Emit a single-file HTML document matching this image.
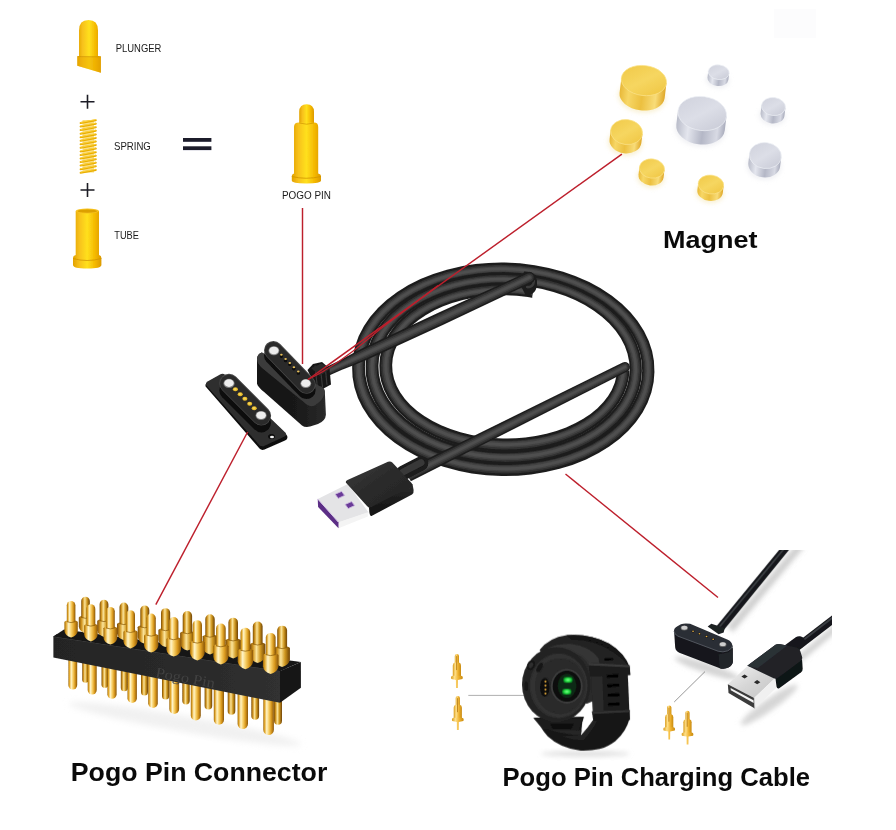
<!DOCTYPE html>
<html><head><meta charset="utf-8">
<style>
html,body{margin:0;padding:0;background:#fff;}
body{width:896px;height:830px;overflow:hidden;font-family:"Liberation Sans",sans-serif;}
svg{display:block}
text{font-family:"Liberation Sans",sans-serif;}
</style></head><body>
<svg width="896" height="830" viewBox="0 0 896 830">
<defs>
<linearGradient id="gold" x1="0" x2="1" y1="0" y2="0">
<stop offset="0" stop-color="#e2a200"/><stop offset="0.22" stop-color="#f7c11a"/><stop offset="0.5" stop-color="#ffe01e"/><stop offset="0.78" stop-color="#f4b800"/><stop offset="1" stop-color="#dc9a00"/>
</linearGradient>
<linearGradient id="gside" x1="0" x2="1" y1="0" y2="0">
<stop offset="0" stop-color="#e8b838"/><stop offset="0.2" stop-color="#f7d766"/><stop offset="0.5" stop-color="#ecc040"/><stop offset="0.8" stop-color="#f8dc78"/><stop offset="1" stop-color="#e0a828"/>
</linearGradient>
<linearGradient id="gtop" x1="0" x2="1" y1="0" y2="1">
<stop offset="0" stop-color="#f0c846"/><stop offset="0.5" stop-color="#f6d660"/><stop offset="1" stop-color="#efc440"/>
</linearGradient>
<linearGradient id="sside" x1="0" x2="1" y1="0" y2="0">
<stop offset="0" stop-color="#b9bcc9"/><stop offset="0.25" stop-color="#e4e6ee"/><stop offset="0.55" stop-color="#b4b7c6"/><stop offset="0.85" stop-color="#d8dae4"/><stop offset="1" stop-color="#a9acbc"/>
</linearGradient>
<linearGradient id="stop" x1="0" x2="1" y1="0" y2="1">
<stop offset="0" stop-color="#cfd1dc"/><stop offset="0.5" stop-color="#dcdee7"/><stop offset="1" stop-color="#c6c8d4"/>
</linearGradient>
<linearGradient id="bodyside" x1="0" x2="1" y1="0" y2="0">
<stop offset="0" stop-color="#121212"/><stop offset="0.6" stop-color="#1a1a1a"/><stop offset="1" stop-color="#2a2a2a"/>
</linearGradient>
<linearGradient id="usbtop" x1="0" x2="1" y1="0" y2="1">
<stop offset="0" stop-color="#3a3a3a"/><stop offset="0.5" stop-color="#2a2a2a"/><stop offset="1" stop-color="#242424"/>
</linearGradient>
<linearGradient id="usbside" x1="0" x2="0" y1="0" y2="1">
<stop offset="0" stop-color="#2e2e2e"/><stop offset="0.5" stop-color="#1c1c1c"/><stop offset="1" stop-color="#121212"/>
</linearGradient>
<linearGradient id="pin" x1="0" x2="1" y1="0" y2="0">
<stop offset="0" stop-color="#9a6408"/><stop offset="0.12" stop-color="#e0a428"/><stop offset="0.32" stop-color="#fff4c8"/><stop offset="0.52" stop-color="#f8d068"/><stop offset="0.74" stop-color="#dc9c20"/><stop offset="1" stop-color="#8a5606"/>
</linearGradient>
<linearGradient id="pinb" x1="0" x2="1" y1="0" y2="0">
<stop offset="0" stop-color="#7a4c06"/><stop offset="0.2" stop-color="#d09420"/><stop offset="0.42" stop-color="#fbe49a"/><stop offset="0.68" stop-color="#d09820"/><stop offset="1" stop-color="#6e4202"/>
</linearGradient>
<linearGradient id="barfront" x1="0" x2="1" y1="0" y2="0">
<stop offset="0" stop-color="#242424"/><stop offset="0.6" stop-color="#2a2a2a"/><stop offset="1" stop-color="#303030"/>
</linearGradient>
<radialGradient id="glow" cx="0.5" cy="0.5" r="0.5">
<stop offset="0" stop-color="#7dff8a"/><stop offset="0.55" stop-color="#28e046"/><stop offset="1" stop-color="#0a7a20"/>
</radialGradient>
<linearGradient id="metal" x1="0" x2="1" y1="0" y2="1">
<stop offset="0" stop-color="#f2f2f2"/><stop offset="0.5" stop-color="#d6d6d6"/><stop offset="1" stop-color="#c4c4c4"/>
</linearGradient>
<linearGradient id="minipin" x1="0" x2="1" y1="0" y2="0">
<stop offset="0" stop-color="#d89a18"/><stop offset="0.3" stop-color="#ffe08a"/><stop offset="0.62" stop-color="#f0b432"/><stop offset="1" stop-color="#c88a10"/>
</linearGradient>
<filter id="soft" x="-2%" y="-2%" width="104%" height="104%"><feGaussianBlur stdDeviation="0.4"/></filter>
<filter id="blur1" x="-20%" y="-20%" width="140%" height="140%"><feGaussianBlur stdDeviation="0.5"/></filter>
<filter id="blur2" x="-30%" y="-30%" width="160%" height="160%"><feGaussianBlur stdDeviation="2"/></filter>
<filter id="blur3" x="-30%" y="-30%" width="160%" height="160%"><feGaussianBlur stdDeviation="3"/></filter>
<filter id="blurz" x="-50%" y="-50%" width="200%" height="200%"><feGaussianBlur stdDeviation="11"/></filter>
<filter id="blurw" x="-5%" y="-5%" width="110%" height="110%"><feGaussianBlur stdDeviation="2.5"/></filter>
<clipPath id="s3clip"><path d="M300,200 L531,200 L531,368.5 L700,368.5 L700,520 L300,520 Z"/></clipPath>
<clipPath id="insetclip"><rect x="640" y="550.2" width="192" height="220"/></clipPath>
</defs>
<rect width="896" height="830" fill="#fff"/>
<g filter="url(#soft)"><g id="topleft">
<path d="M79,56 L79,30.5 Q79,20.1 88.5,20.1 Q98,20.1 98,30.5 L98,56 L100.9,56.6 L100.9,72.8 L77.3,65.8 L77.3,56.6 Z" fill="url(#gold)"/>
<path d="M77.3,56.8 L100.9,57 L100.9,72.8 L77.3,65.8 Z" fill="#eaa800" opacity="0.5"/>
<path d="M77.3,56.6 L100.9,56.8" stroke="#d09400" stroke-width="0.7"/>
<path d="M80.5,101.8 H94.5 M87.5,94.8 V108.8" stroke="#1b1b25" stroke-width="1.6"/>
<path d="M80.5,190 H94.5 M87.5,183 V197" stroke="#1b1b25" stroke-width="1.6"/>
<rect x="82.5" y="120" width="11.5" height="52.5" fill="#f6c830" opacity="0.6"/>
<path d="M80.6,123.0 L95.8,120.2" stroke="#e9ae00" stroke-width="2.0" stroke-linecap="round"/><path d="M81,122.4 L95.4,119.6" stroke="#ffd84a" stroke-width="0.8" stroke-linecap="round"/><path d="M80.6,126.5 L95.8,123.7" stroke="#e9ae00" stroke-width="2.0" stroke-linecap="round"/><path d="M81,125.9 L95.4,123.1" stroke="#ffd84a" stroke-width="0.8" stroke-linecap="round"/><path d="M80.6,130.1 L95.8,127.3" stroke="#e9ae00" stroke-width="2.0" stroke-linecap="round"/><path d="M81,129.5 L95.4,126.7" stroke="#ffd84a" stroke-width="0.8" stroke-linecap="round"/><path d="M80.6,133.7 L95.8,130.8" stroke="#e9ae00" stroke-width="2.0" stroke-linecap="round"/><path d="M81,133.1 L95.4,130.2" stroke="#ffd84a" stroke-width="0.8" stroke-linecap="round"/><path d="M80.6,137.2 L95.8,134.4" stroke="#e9ae00" stroke-width="2.0" stroke-linecap="round"/><path d="M81,136.6 L95.4,133.8" stroke="#ffd84a" stroke-width="0.8" stroke-linecap="round"/><path d="M80.6,140.8 L95.8,137.9" stroke="#e9ae00" stroke-width="2.0" stroke-linecap="round"/><path d="M81,140.2 L95.4,137.3" stroke="#ffd84a" stroke-width="0.8" stroke-linecap="round"/><path d="M80.6,144.3 L95.8,141.5" stroke="#e9ae00" stroke-width="2.0" stroke-linecap="round"/><path d="M81,143.7 L95.4,140.9" stroke="#ffd84a" stroke-width="0.8" stroke-linecap="round"/><path d="M80.6,147.8 L95.8,145.0" stroke="#e9ae00" stroke-width="2.0" stroke-linecap="round"/><path d="M81,147.2 L95.4,144.4" stroke="#ffd84a" stroke-width="0.8" stroke-linecap="round"/><path d="M80.6,151.4 L95.8,148.6" stroke="#e9ae00" stroke-width="2.0" stroke-linecap="round"/><path d="M81,150.8 L95.4,148.0" stroke="#ffd84a" stroke-width="0.8" stroke-linecap="round"/><path d="M80.6,155.0 L95.8,152.2" stroke="#e9ae00" stroke-width="2.0" stroke-linecap="round"/><path d="M81,154.4 L95.4,151.6" stroke="#ffd84a" stroke-width="0.8" stroke-linecap="round"/><path d="M80.6,158.5 L95.8,155.7" stroke="#e9ae00" stroke-width="2.0" stroke-linecap="round"/><path d="M81,157.9 L95.4,155.1" stroke="#ffd84a" stroke-width="0.8" stroke-linecap="round"/><path d="M80.6,162.1 L95.8,159.2" stroke="#e9ae00" stroke-width="2.0" stroke-linecap="round"/><path d="M81,161.5 L95.4,158.7" stroke="#ffd84a" stroke-width="0.8" stroke-linecap="round"/><path d="M80.6,165.6 L95.8,162.8" stroke="#e9ae00" stroke-width="2.0" stroke-linecap="round"/><path d="M81,165.0 L95.4,162.2" stroke="#ffd84a" stroke-width="0.8" stroke-linecap="round"/><path d="M80.6,169.2 L95.8,166.3" stroke="#e9ae00" stroke-width="2.0" stroke-linecap="round"/><path d="M81,168.6 L95.4,165.8" stroke="#ffd84a" stroke-width="0.8" stroke-linecap="round"/><path d="M80.6,172.7 L95.8,169.9" stroke="#e9ae00" stroke-width="2.0" stroke-linecap="round"/><path d="M81,172.1 L95.4,169.3" stroke="#ffd84a" stroke-width="0.8" stroke-linecap="round"/>
<path d="M75.7,211 L75.7,255 Q73,255.5 73,258 L73,265 Q73,268.6 87.2,268.6 Q101.4,268.6 101.4,265 L101.4,258 Q101.4,255.5 99,255 L99,211 Z" fill="url(#gold)"/>
<ellipse cx="87.35" cy="211" rx="11.65" ry="2.6" fill="#f7c21e"/>
<ellipse cx="87.35" cy="211.2" rx="9.8" ry="1.6" fill="#dca000"/>
<path d="M73,258.5 Q87,262.5 101.4,258.5" stroke="#d09400" stroke-width="0.8" fill="none"/>
<rect x="183" y="138.0" width="28.4" height="3.8" fill="#1b1b2b"/>
<rect x="183" y="146.3" width="28.4" height="3.8" fill="#1b1b2b"/>
<path d="M299.2,124 L299.2,112 Q299.2,104.3 306.6,104.3 Q314,104.3 314,112 L314,124 Z" fill="url(#gold)"/>
<path d="M294,173.5 L294,127 Q294,122.6 299,122.6 L314,122.6 Q318.2,122.6 318.2,127 L318.2,173.5 Q321,174 321,176 L321,180.5 Q321,183.4 306.4,183.4 Q291.8,183.4 291.8,180.5 L291.8,176 Q291.8,174 294,173.5 Z" fill="url(#gold)"/>
<path d="M291.8,176.5 Q306,180 321,176.5" stroke="#d09400" stroke-width="0.8" fill="none"/>
<path d="M299.2,123 Q306.6,125.4 314,123" stroke="#d09400" stroke-width="0.7" fill="none"/>
</g></g>
<rect x="774" y="9" width="42" height="29" fill="#fcfcfd"/><g id="magnets" filter="url(#blur1)"><g transform="rotate(7 643 88.0)"><ellipse cx="643" cy="97.0" rx="24.2" ry="16" fill="#f3e4b0" opacity="0.5" filter="url(#blur2)"/><path d="M620.3,80.5 L620.3,95.5 A22.7,15 0 0 0 665.7,95.5 L665.7,80.5 Z" fill="url(#gside)"/><ellipse cx="643" cy="80.5" rx="22.7" ry="15" fill="url(#gtop)" stroke="#fbe38a" stroke-width="0.7"/></g><g transform="rotate(7 701.4 120.5)"><ellipse cx="701.4" cy="129.0" rx="25.9" ry="18" fill="#e3e4ea" opacity="0.5" filter="url(#blur2)"/><path d="M677.0,113.5 L677.0,127.5 A24.4,17 0 0 0 725.8,127.5 L725.8,113.5 Z" fill="url(#sside)"/><ellipse cx="701.4" cy="113.5" rx="24.4" ry="17" fill="url(#stop)" stroke="#eceef4" stroke-width="0.7"/></g><g transform="rotate(7 626 136.5)"><ellipse cx="626" cy="142.5" rx="17.5" ry="13.5" fill="#f3e4b0" opacity="0.5" filter="url(#blur2)"/><path d="M610,132 L610,141 A16,12.5 0 0 0 642,141 L642,132 Z" fill="url(#gside)"/><ellipse cx="626" cy="132" rx="16" ry="12.5" fill="url(#gtop)" stroke="#fbe38a" stroke-width="0.7"/></g><g transform="rotate(7 651.5 172.25)"><ellipse cx="651.5" cy="177.5" rx="14.1" ry="10.6" fill="#f3e4b0" opacity="0.5" filter="url(#blur2)"/><path d="M638.9,168.5 L638.9,176.0 A12.6,9.6 0 0 0 664.1,176.0 L664.1,168.5 Z" fill="url(#gside)"/><ellipse cx="651.5" cy="168.5" rx="12.6" ry="9.6" fill="url(#gtop)" stroke="#fbe38a" stroke-width="0.7"/></g><g transform="rotate(7 710.5 188.0)"><ellipse cx="710.5" cy="193.0" rx="14.3" ry="10.4" fill="#f3e4b0" opacity="0.5" filter="url(#blur2)"/><path d="M697.7,184.5 L697.7,191.5 A12.8,9.4 0 0 0 723.3,191.5 L723.3,184.5 Z" fill="url(#gside)"/><ellipse cx="710.5" cy="184.5" rx="12.8" ry="9.4" fill="url(#gtop)" stroke="#fbe38a" stroke-width="0.7"/></g><g transform="rotate(7 718.3 75.45)"><ellipse cx="718.3" cy="80.2" rx="12.0" ry="8.3" fill="#e3e4ea" opacity="0.5" filter="url(#blur2)"/><path d="M707.8,72.2 L707.8,78.7 A10.5,7.3 0 0 0 728.8,78.7 L728.8,72.2 Z" fill="url(#sside)"/><ellipse cx="718.3" cy="72.2" rx="10.5" ry="7.3" fill="url(#stop)" stroke="#eceef4" stroke-width="0.7"/></g><g transform="rotate(7 773 110.5)"><ellipse cx="773" cy="116.0" rx="13.5" ry="10" fill="#e3e4ea" opacity="0.5" filter="url(#blur2)"/><path d="M761,106.5 L761,114.5 A12,9 0 0 0 785,114.5 L785,106.5 Z" fill="url(#sside)"/><ellipse cx="773" cy="106.5" rx="12" ry="9" fill="url(#stop)" stroke="#eceef4" stroke-width="0.7"/></g><g transform="rotate(7 764.8 160.0)"><ellipse cx="764.8" cy="166.0" rx="17.5" ry="14" fill="#e3e4ea" opacity="0.5" filter="url(#blur2)"/><path d="M748.8,155.5 L748.8,164.5 A16,13 0 0 0 780.8,164.5 L780.8,155.5 Z" fill="url(#sside)"/><ellipse cx="764.8" cy="155.5" rx="16" ry="13" fill="url(#stop)" stroke="#eceef4" stroke-width="0.7"/></g></g>
<g filter="url(#soft)"><g id="cable"><g transform="rotate(1 503 369)"><path d="M352.10,369.25 A151.18,105.85 0 1 1 654.45,369.25 A151.18,105.85 0 1 1 352.10,369.25 Z M364.90,368.55 A138.62,93.95 0 1 1 642.15,368.55 A138.62,93.95 0 1 1 364.90,368.55 Z" fill="#1d1d1d" fill-rule="evenodd"/><path d="M353.76,369.16 A149.54,104.30 0 1 1 652.85,369.16 A149.54,104.30 0 1 1 353.76,369.16 Z M363.24,368.64 A140.26,95.50 0 1 1 643.75,368.64 A140.26,95.50 0 1 1 363.24,368.64 Z" fill="#303030" fill-rule="evenodd"/><path d="M355.43,369.07 A147.91,102.76 0 1 1 651.25,369.07 A147.91,102.76 0 1 1 355.43,369.07 Z M361.57,368.73 A141.89,97.04 0 1 1 645.35,368.73 A141.89,97.04 0 1 1 361.57,368.73 Z" fill="#434343" fill-rule="evenodd"/><path d="M356.96,368.98 A146.41,101.33 0 1 1 649.78,368.98 A146.41,101.33 0 1 1 356.96,368.98 Z M360.04,368.82 A143.39,98.47 0 1 1 646.82,368.82 A143.39,98.47 0 1 1 360.04,368.82 Z" fill="#4f4f4f" fill-rule="evenodd"/><path d="M365.60,368.55 A138.18,94.95 0 1 1 641.95,368.55 A138.18,94.95 0 1 1 365.60,368.55 Z M378.40,367.85 A125.62,83.05 0 1 1 629.65,367.85 A125.62,83.05 0 1 1 378.40,367.85 Z" fill="#1d1d1d" fill-rule="evenodd"/><path d="M367.26,368.46 A136.54,93.40 0 1 1 640.35,368.46 A136.54,93.40 0 1 1 367.26,368.46 Z M376.74,367.94 A127.26,84.60 0 1 1 631.25,367.94 A127.26,84.60 0 1 1 376.74,367.94 Z" fill="#303030" fill-rule="evenodd"/><path d="M368.93,368.37 A134.91,91.86 0 1 1 638.75,368.37 A134.91,91.86 0 1 1 368.93,368.37 Z M375.07,368.03 A128.89,86.14 0 1 1 632.85,368.03 A128.89,86.14 0 1 1 375.07,368.03 Z" fill="#434343" fill-rule="evenodd"/><path d="M370.46,368.28 A133.41,90.43 0 1 1 637.28,368.28 A133.41,90.43 0 1 1 370.46,368.28 Z M373.54,368.12 A130.39,87.57 0 1 1 634.32,368.12 A130.39,87.57 0 1 1 373.54,368.12 Z" fill="#4f4f4f" fill-rule="evenodd"/><g clip-path="url(#s3clip)"><path d="M379.30,367.55 A125.08,83.45 0 1 1 629.45,367.55 A125.08,83.45 0 1 1 379.30,367.55 Z M392.10,366.85 A112.52,71.55 0 1 1 617.15,366.85 A112.52,71.55 0 1 1 392.10,366.85 Z" fill="#1d1d1d" fill-rule="evenodd"/><path d="M380.96,367.46 A123.44,81.90 0 1 1 627.85,367.46 A123.44,81.90 0 1 1 380.96,367.46 Z M390.44,366.94 A114.16,73.10 0 1 1 618.75,366.94 A114.16,73.10 0 1 1 390.44,366.94 Z" fill="#303030" fill-rule="evenodd"/><path d="M382.63,367.37 A121.81,80.36 0 1 1 626.25,367.37 A121.81,80.36 0 1 1 382.63,367.37 Z M388.77,367.03 A115.79,74.64 0 1 1 620.35,367.03 A115.79,74.64 0 1 1 388.77,367.03 Z" fill="#434343" fill-rule="evenodd"/><path d="M384.16,367.28 A120.31,78.93 0 1 1 624.78,367.28 A120.31,78.93 0 1 1 384.16,367.28 Z M387.24,367.12 A117.29,76.07 0 1 1 621.82,367.12 A117.29,76.07 0 1 1 387.24,367.12 Z" fill="#4f4f4f" fill-rule="evenodd"/></g></g><path d="M524,271.5 Q536.5,271 537,282 Q537.5,294.5 526,296 L520,284 Z" fill="#1b1b1b"/><path d="M527,287 Q533,288 534,281" stroke="#3a3a3a" stroke-width="2.5" fill="none" stroke-linecap="round"/><path d="M410.82,481.13 L627.28,371.56 A5.10,5.10 0 0 0 622.72,362.44 L405.18,469.87 Z" fill="#1d1d1d"/><path d="M410.08,479.67 L626.69,370.38 A3.77,3.77 0 0 0 623.31,363.62 L405.92,471.33 Z" fill="#303030"/><path d="M409.35,478.20 L626.09,369.19 A2.45,2.45 0 0 0 623.91,364.81 L406.65,472.80 Z" fill="#434343"/><path d="M408.68,476.85 L625.55,368.09 A1.22,1.22 0 0 0 624.45,365.91 L407.32,474.15 Z" fill="#4f4f4f"/><path d="M326.81,376.40 L341.98,369.79 L354.32,364.95 L367.59,359.50 L442.76,325.02 L531.94,282.76 A5.80,5.80 0 0 0 527.06,272.24 L437.24,313.14 L362.41,348.34 L349.68,354.97 L338.02,361.27 L323.19,368.60 Z" fill="#1d1d1d"/><path d="M326.34,375.39 L341.47,368.69 L353.71,363.65 L366.92,358.05 L442.04,323.47 L531.31,281.39 A4.29,4.29 0 0 0 527.69,273.61 L437.96,314.68 L363.08,349.79 L350.29,356.27 L338.53,362.38 L323.66,369.61 Z" fill="#303030"/><path d="M325.87,374.37 L340.95,367.58 L353.11,362.35 L366.24,356.60 L441.32,321.93 L530.67,280.02 A2.78,2.78 0 0 0 528.33,274.98 L438.68,316.23 L363.76,351.24 L350.89,357.56 L339.05,363.49 L324.13,370.63 Z" fill="#434343"/><path d="M325.43,373.44 L340.48,366.55 L352.56,361.15 L365.62,355.26 L440.66,320.50 L530.09,278.76 A1.39,1.39 0 0 0 528.91,276.24 L439.34,317.65 L364.38,352.58 L351.44,358.76 L339.52,364.51 L324.57,371.56 Z" fill="#4f4f4f"/></g>
<g id="connectors"><g id="usb"><path d="M403,473 L421,463.6" stroke="#1a1a1a" stroke-width="14.5" stroke-linecap="round"/><path d="M403,472 L421,462.6" stroke="#383838" stroke-width="7" stroke-linecap="round"/><path d="M317.7,498.9 L347.9,484.1 L368.6,512.6 L338.5,522.5 Z" fill="#e4e4e6"/><path d="M338.5,522.3 L367.9,512.3 L367.9,516.6 L338.5,528.3 Z" fill="#f4f4f4"/><path d="M317.7,498.9 L318.1,506.9 L338.5,528.3 L338.5,522.3 Z" fill="#5b2f86"/><path d="M317.7,498.9 L338.5,522.3" stroke="#d8c8e8" stroke-width="1"/><path d="M335.2,494.2 L341.6,491.4 L344.6,495.4 L338.2,498.4 Z" fill="#6a3a98" stroke="#c9b6dc" stroke-width="0.9"/><path d="M345.2,504.4 L351.6,501.6 L354.6,505.6 L348.2,508.6 Z" fill="#6a3a98" stroke="#c9b6dc" stroke-width="0.9"/><path d="M346,483 L369,508 Q369.4,517 371.5,516 L412,494.5 Q414,493 413.6,490 L412.5,484 L368.6,507.6 Z" fill="url(#usbside)"/><path d="M345.8,482.6 Q345.4,480.8 347.5,480 L388,461.8 Q390.7,460.8 392.3,462.6 L411.5,483 Q413.4,485.2 411,486.6 L371,507 Q368.6,508.2 367,506 Z" fill="url(#usbtop)"/></g><g id="head"><path d="M307.5,370 L313,364 L322,362 L329.5,368.5 L331,384.5 L318,391.5 Z" fill="#161616"/><path d="M315,365.5 L317.5,388.5 M320,364 L322.5,387 M325,365 L327,385" stroke="#3a3a3a" stroke-width="1.2"/><path d="M311,368 L322,363.5 L329,369.5 L320,376 Z" fill="#2a2a2a"/><path d="M261.9,352.5 Q257,354 257,359.5 L257,383.4 Q257.5,386.5 264.1,392 L302,425.4 Q305,427.8 310,426.6 L318,424 Q325.5,421 325.9,414.8 L324.8,391 Q324,387 319.4,386.6 Z" fill="url(#bodyside)"/><path d="M261.9,352.5 Q257,354 257,359.5 Q257.3,363.8 262,368 L307,404.8 Q311,407.6 315.5,405 Q323.5,400 324.8,392 Q324.4,387 319.4,386 Z" fill="#3b3b3b"/><path d="M273.3,355.6 L306.4,389.8" stroke="#0c0c0c" stroke-width="18.5" stroke-linecap="round"/><path d="M273.3,350.3 L306.4,384.5" stroke="#4a4a4a" stroke-width="18.6" stroke-linecap="round"/><path d="M273.3,350.5 L306.4,384.7" stroke="#2c2c2c" stroke-width="17" stroke-linecap="round"/><ellipse cx="273.9" cy="350.8" rx="5.4" ry="4.5" fill="#8a8a8a"/><ellipse cx="273.9" cy="350.5" rx="4.6" ry="3.8" fill="#ececec"/><ellipse cx="305.8" cy="383.6" rx="5.4" ry="4.5" fill="#8a8a8a"/><ellipse cx="305.8" cy="383.3" rx="4.6" ry="3.8" fill="#ececec"/><ellipse cx="281.4" cy="356.09999999999997" rx="1.7" ry="1.9" fill="#080808"/><ellipse cx="281.4" cy="354.8" rx="1.3" ry="1" fill="#e6bf5a"/><ellipse cx="285.6" cy="360.4" rx="1.7" ry="1.9" fill="#080808"/><ellipse cx="285.6" cy="359.1" rx="1.3" ry="1" fill="#e6bf5a"/><ellipse cx="289.8" cy="364.2" rx="1.7" ry="1.9" fill="#080808"/><ellipse cx="289.8" cy="362.90000000000003" rx="1.3" ry="1" fill="#e6bf5a"/><ellipse cx="293.9" cy="368.59999999999997" rx="1.7" ry="1.9" fill="#080808"/><ellipse cx="293.9" cy="367.3" rx="1.3" ry="1" fill="#e6bf5a"/><ellipse cx="298.3" cy="372.9" rx="1.7" ry="1.9" fill="#080808"/><ellipse cx="298.3" cy="371.6" rx="1.3" ry="1" fill="#e6bf5a"/></g><g id="flat"><path d="M205.6,386.5 Q204.8,384 207.5,382.6 L220.5,375 Q223,373.8 225,375.6 L285.5,433.6 Q287.8,436 287.4,438 Q287,439.6 285,440.6 L264.5,449.6 Q261.5,450.6 259.5,448.6 Z" fill="#0e0e0e"/><path d="M206,385 Q205.2,383 207.5,381.6 L220.5,374.2 Q223,373 225,374.8 L285.3,432.4 Q287.4,434.8 284.6,436.4 L264,446 Q261.4,447 259.5,445.2 Z" fill="#2f2f2f"/><path d="M229,390.4 L261.4,422.8" stroke="#0b0b0b" stroke-width="19.3" stroke-linecap="round"/><path d="M229,383.4 L261.4,415.8" stroke="#474747" stroke-width="19.4" stroke-linecap="round"/><path d="M229,383.6 L261.4,416" stroke="#2b2b2b" stroke-width="17.8" stroke-linecap="round"/><ellipse cx="229" cy="383.4" rx="5.6" ry="4.6" fill="#7a7a7a"/><ellipse cx="229" cy="383.09999999999997" rx="4.8" ry="3.8" fill="#eeeeee"/><ellipse cx="261.1" cy="415.5" rx="5.6" ry="4.6" fill="#7a7a7a"/><ellipse cx="261.1" cy="415.2" rx="4.8" ry="3.8" fill="#eeeeee"/><ellipse cx="235.4" cy="389.3" rx="2.5" ry="2" fill="#e9bd2c"/><ellipse cx="235.20000000000002" cy="389.1" rx="1.4" ry="1.1" fill="#f6d458"/><ellipse cx="240.2" cy="394.2" rx="2.5" ry="2" fill="#e9bd2c"/><ellipse cx="240.0" cy="394.0" rx="1.4" ry="1.1" fill="#f6d458"/><ellipse cx="244.9" cy="398.8" rx="2.5" ry="2" fill="#e9bd2c"/><ellipse cx="244.70000000000002" cy="398.6" rx="1.4" ry="1.1" fill="#f6d458"/><ellipse cx="249.7" cy="403.7" rx="2.5" ry="2" fill="#e9bd2c"/><ellipse cx="249.5" cy="403.5" rx="1.4" ry="1.1" fill="#f6d458"/><ellipse cx="254.2" cy="408.3" rx="2.5" ry="2" fill="#e9bd2c"/><ellipse cx="254.0" cy="408.1" rx="1.4" ry="1.1" fill="#f6d458"/><ellipse cx="271.5" cy="436.4" rx="3.4" ry="2.5" fill="#0a0a0a"/><ellipse cx="272" cy="437" rx="2" ry="1.3" fill="#f2f2f2"/></g></g></g>
<g filter="url(#soft)"><g id="pinconn"><ellipse cx="185" cy="724" rx="118" ry="8" fill="#f1f1f1" filter="url(#blur3)" transform="rotate(10 185 724)"/><path d="M82.2,657.9 L82.2,679.4 A3.3,3.3 0 0 0 88.8,679.4 L88.8,657.9 Z" fill="url(#pinb)"/><path d="M101.5,661.8 L101.5,684.4 A3.4,3.4 0 0 0 108.3,684.4 L108.3,661.8 Z" fill="url(#pinb)"/><path d="M120.8,665.7 L120.8,687.7 A3.5,3.5 0 0 0 127.8,687.7 L127.8,665.7 Z" fill="url(#pinb)"/><path d="M141.0,669.7 L141.0,691.9 A3.5,3.5 0 0 0 148.0,691.9 L148.0,669.7 Z" fill="url(#pinb)"/><path d="M162.0,673.9 L162.0,696.0 A3.6,3.6 0 0 0 169.2,696.0 L169.2,673.9 Z" fill="url(#pinb)"/><path d="M182.3,678.0 L182.3,700.8 A3.7,3.7 0 0 0 189.7,700.8 L189.7,678.0 Z" fill="url(#pinb)"/><path d="M204.6,682.5 L204.6,705.8 A3.8,3.8 0 0 0 212.2,705.8 L212.2,682.5 Z" fill="url(#pinb)"/><path d="M227.7,687.1 L227.7,710.9 A3.8,3.8 0 0 0 235.3,710.9 L235.3,687.1 Z" fill="url(#pinb)"/><path d="M251.3,691.9 L251.3,715.8 A3.9,3.9 0 0 0 259.1,715.8 L259.1,691.9 Z" fill="url(#pinb)"/><path d="M274.0,696.4 L274.0,720.8 A4.0,4.0 0 0 0 282.0,720.8 L282.0,696.4 Z" fill="url(#pinb)"/><path d="M68.4,658.4 L68.4,685.1 A4.4,4.4 0 0 0 77.2,685.1 L77.2,658.4 Z" fill="url(#pin)"/><path d="M87.7,662.3 L87.7,690.0 A4.5,4.5 0 0 0 96.7,690.0 L96.7,662.3 Z" fill="url(#pin)"/><path d="M107.4,666.2 L107.4,694.2 A4.6,4.6 0 0 0 116.6,694.2 L116.6,666.2 Z" fill="url(#pin)"/><path d="M127.5,670.3 L127.5,698.3 A4.7,4.7 0 0 0 136.9,698.3 L136.9,670.3 Z" fill="url(#pin)"/><path d="M148.2,674.4 L148.2,703.2 A4.8,4.8 0 0 0 157.8,703.2 L157.8,674.4 Z" fill="url(#pin)"/><path d="M169.3,678.7 L169.3,709.1 A4.9,4.9 0 0 0 179.1,709.1 L179.1,678.7 Z" fill="url(#pin)"/><path d="M190.8,683.0 L190.8,715.5 A5.0,5.0 0 0 0 200.8,715.5 L200.8,683.0 Z" fill="url(#pin)"/><path d="M213.8,687.6 L213.8,719.7 A5.1,5.1 0 0 0 224.0,719.7 L224.0,687.6 Z" fill="url(#pin)"/><path d="M237.6,692.4 L237.6,723.8 A5.2,5.2 0 0 0 248.0,723.8 L248.0,692.4 Z" fill="url(#pin)"/><path d="M263.3,697.5 L263.3,729.7 A5.3,5.3 0 0 0 273.9,729.7 L273.9,697.5 Z" fill="url(#pin)"/><path d="M53.4,636.4 L64,629.5 L300.9,661.9 L280,671 Z" fill="#161616"/><path d="M78.8,617.7 Q78.8,616.2 85.5,615.6 Q92.2,616.2 92.2,617.7 L92.2,626.7 Q91.5,631.5 85.5,633.2 Q79.5,631.5 78.8,626.7 Z" fill="url(#pinb)"/><path d="M81.2,617.4 L81.2,601.0 A4.3,4.3 0 0 1 89.8,601.0 L89.8,617.4 Q85.5,618.8 81.2,617.4 Z" fill="url(#pinb)"/><path d="M81.2,617.4 Q85.5,619.2 89.8,617.4" stroke="#8a5a08" stroke-width="0.7" fill="none"/><path d="M97.2,621.0 Q97.2,619.5 104.0,618.9 Q110.8,619.5 110.8,621.0 L110.8,630.3 Q110.1,635.2 104.0,636.9 Q97.9,635.2 97.2,630.3 Z" fill="url(#pinb)"/><path d="M99.6,620.7 L99.6,604.2 A4.4,4.4 0 0 1 108.4,604.2 L108.4,620.7 Q104.0,622.1 99.6,620.7 Z" fill="url(#pinb)"/><path d="M99.6,620.7 Q104.0,622.5 108.4,620.7" stroke="#8a5a08" stroke-width="0.7" fill="none"/><path d="M117.0,624.0 Q117.0,622.5 123.9,621.9 Q130.8,622.5 130.8,624.0 L130.8,633.6 Q130.2,638.5 123.9,640.3 Q117.7,638.5 117.0,633.6 Z" fill="url(#pinb)"/><path d="M119.5,623.7 L119.5,607.0 A4.4,4.4 0 0 1 128.3,607.0 L128.3,623.7 Q123.9,625.1 119.5,623.7 Z" fill="url(#pinb)"/><path d="M119.5,623.7 Q123.9,625.5 128.3,623.7" stroke="#8a5a08" stroke-width="0.7" fill="none"/><path d="M137.7,627.2 Q137.7,625.7 144.8,625.1 Q151.9,625.7 151.9,627.2 L151.9,636.9 Q151.2,642.0 144.8,643.8 Q138.4,642.0 137.7,636.9 Z" fill="url(#pinb)"/><path d="M140.3,626.9 L140.3,610.0 A4.5,4.5 0 0 1 149.3,610.0 L149.3,626.9 Q144.8,628.3 140.3,626.9 Z" fill="url(#pinb)"/><path d="M140.3,626.9 Q144.8,628.7 149.3,626.9" stroke="#8a5a08" stroke-width="0.7" fill="none"/><path d="M158.4,630.1 Q158.4,628.6 165.6,628.0 Q172.8,628.6 172.8,630.1 L172.8,640.1 Q172.1,645.3 165.6,647.1 Q159.1,645.3 158.4,640.1 Z" fill="url(#pinb)"/><path d="M161.0,629.8 L161.0,612.8 A4.6,4.6 0 0 1 170.2,612.8 L170.2,629.8 Q165.6,631.2 161.0,629.8 Z" fill="url(#pinb)"/><path d="M161.0,629.8 Q165.6,631.6 170.2,629.8" stroke="#8a5a08" stroke-width="0.7" fill="none"/><path d="M180.1,633.1 Q180.1,631.6 187.4,631.0 Q194.7,631.6 194.7,633.1 L194.7,643.4 Q194.0,648.7 187.4,650.6 Q180.8,648.7 180.1,643.4 Z" fill="url(#pinb)"/><path d="M182.7,632.8 L182.7,615.7 A4.7,4.7 0 0 1 192.1,615.7 L192.1,632.8 Q187.4,634.2 182.7,632.8 Z" fill="url(#pinb)"/><path d="M182.7,632.8 Q187.4,634.6 192.1,632.8" stroke="#8a5a08" stroke-width="0.7" fill="none"/><path d="M202.6,636.6 Q202.6,635.1 210.0,634.5 Q217.4,635.1 217.4,636.6 L217.4,647.1 Q216.7,652.5 210.0,654.5 Q203.3,652.5 202.6,647.1 Z" fill="url(#pinb)"/><path d="M205.3,636.3 L205.3,619.0 A4.7,4.7 0 0 1 214.7,619.0 L214.7,636.3 Q210.0,637.7 205.3,636.3 Z" fill="url(#pinb)"/><path d="M205.3,636.3 Q210.0,638.1 214.7,636.3" stroke="#8a5a08" stroke-width="0.7" fill="none"/><path d="M225.6,640.3 Q225.6,638.8 233.2,638.2 Q240.8,638.8 240.8,640.3 L240.8,651.0 Q240.0,656.5 233.2,658.5 Q226.4,656.5 225.6,651.0 Z" fill="url(#pinb)"/><path d="M228.4,640.0 L228.4,622.5 A4.8,4.8 0 0 1 238.0,622.5 L238.0,640.0 Q233.2,641.4 228.4,640.0 Z" fill="url(#pinb)"/><path d="M228.4,640.0 Q233.2,641.8 238.0,640.0" stroke="#8a5a08" stroke-width="0.7" fill="none"/><path d="M250.0,644.4 Q250.0,642.9 257.7,642.3 Q265.4,642.9 265.4,644.4 L265.4,655.3 Q264.6,661.0 257.7,663.0 Q250.8,661.0 250.0,655.3 Z" fill="url(#pinb)"/><path d="M252.8,644.1 L252.8,626.5 A4.9,4.9 0 0 1 262.6,626.5 L262.6,644.1 Q257.7,645.5 252.8,644.1 Z" fill="url(#pinb)"/><path d="M252.8,644.1 Q257.7,645.9 262.6,644.1" stroke="#8a5a08" stroke-width="0.7" fill="none"/><path d="M274.3,648.0 Q274.3,646.5 282.1,645.9 Q289.9,646.5 289.9,648.0 L289.9,659.2 Q289.1,665.0 282.1,667.0 Q275.1,665.0 274.3,659.2 Z" fill="url(#pinb)"/><path d="M277.2,647.7 L277.2,630.0 A5.0,5.0 0 0 1 287.1,630.0 L287.1,647.7 Q282.1,649.1 277.2,647.7 Z" fill="url(#pinb)"/><path d="M277.2,647.7 Q282.1,649.5 287.1,647.7" stroke="#8a5a08" stroke-width="0.7" fill="none"/><path d="M53.4,636.4 L280,671 L280,702.8 L53.4,657.5 Z" fill="url(#barfront)"/><path d="M280,671 L300.9,661.9 L300.9,687.7 L280,702.8 Z" fill="#191919"/><path d="M53.4,636.6 L280,671.2" stroke="#3e3e3e" stroke-width="0.8"/><path d="M53.4,636.4 L57,634 L287,668 L280,671 Z" fill="#181818"/><text x="155" y="677" style="font-family:'Liberation Serif',serif" font-size="14.5" fill="#414141" transform="rotate(10.5 155 677)" textLength="60" lengthAdjust="spacingAndGlyphs">Pogo  Pin</text><path d="M64.4,622.0 Q64.4,620.5 71.1,619.9 Q77.8,620.5 77.8,622.0 L77.8,631.0 Q77.1,635.8 71.1,637.5 Q65.1,635.8 64.4,631.0 Z" fill="url(#pin)"/><path d="M66.8,621.7 L66.8,605.3 A4.3,4.3 0 0 1 75.4,605.3 L75.4,621.7 Q71.1,623.1 66.8,621.7 Z" fill="url(#pin)"/><path d="M66.8,621.7 Q71.1,623.5 75.4,621.7" stroke="#8a5a08" stroke-width="0.7" fill="none"/><path d="M84.1,625.5 Q84.1,624.0 90.9,623.4 Q97.7,624.0 97.7,625.5 L97.7,634.8 Q97.0,639.7 90.9,641.4 Q84.8,639.7 84.1,634.8 Z" fill="url(#pin)"/><path d="M86.5,625.2 L86.5,608.7 A4.4,4.4 0 0 1 95.3,608.7 L95.3,625.2 Q90.9,626.6 86.5,625.2 Z" fill="url(#pin)"/><path d="M86.5,625.2 Q90.9,627.0 95.3,625.2" stroke="#8a5a08" stroke-width="0.7" fill="none"/><path d="M103.5,628.3 Q103.5,626.8 110.4,626.2 Q117.3,626.8 117.3,628.3 L117.3,637.9 Q116.7,642.8 110.4,644.6 Q104.2,642.8 103.5,637.9 Z" fill="url(#pin)"/><path d="M106.0,628.0 L106.0,611.3 A4.4,4.4 0 0 1 114.8,611.3 L114.8,628.0 Q110.4,629.4 106.0,628.0 Z" fill="url(#pin)"/><path d="M106.0,628.0 Q110.4,629.8 114.8,628.0" stroke="#8a5a08" stroke-width="0.7" fill="none"/><path d="M123.4,631.9 Q123.4,630.4 130.5,629.8 Q137.6,630.4 137.6,631.9 L137.6,641.6 Q136.9,646.7 130.5,648.5 Q124.1,646.7 123.4,641.6 Z" fill="url(#pin)"/><path d="M126.0,631.6 L126.0,614.7 A4.5,4.5 0 0 1 135.0,614.7 L135.0,631.6 Q130.5,633.0 126.0,631.6 Z" fill="url(#pin)"/><path d="M126.0,631.6 Q130.5,633.4 135.0,631.6" stroke="#8a5a08" stroke-width="0.7" fill="none"/><path d="M144.0,635.5 Q144.0,634.0 151.2,633.4 Q158.4,634.0 158.4,635.5 L158.4,645.5 Q157.7,650.7 151.2,652.5 Q144.7,650.7 144.0,645.5 Z" fill="url(#pin)"/><path d="M146.6,635.2 L146.6,618.2 A4.6,4.6 0 0 1 155.8,618.2 L155.8,635.2 Q151.2,636.6 146.6,635.2 Z" fill="url(#pin)"/><path d="M146.6,635.2 Q151.2,637.0 155.8,635.2" stroke="#8a5a08" stroke-width="0.7" fill="none"/><path d="M166.4,639.1 Q166.4,637.6 173.7,637.0 Q181.0,637.6 181.0,639.1 L181.0,649.4 Q180.3,654.7 173.7,656.6 Q167.1,654.7 166.4,649.4 Z" fill="url(#pin)"/><path d="M169.0,638.8 L169.0,621.7 A4.7,4.7 0 0 1 178.4,621.7 L178.4,638.8 Q173.7,640.2 169.0,638.8 Z" fill="url(#pin)"/><path d="M169.0,638.8 Q173.7,640.6 178.4,638.8" stroke="#8a5a08" stroke-width="0.7" fill="none"/><path d="M189.9,642.5 Q189.9,641.0 197.3,640.4 Q204.7,641.0 204.7,642.5 L204.7,653.0 Q204.0,658.4 197.3,660.4 Q190.6,658.4 189.9,653.0 Z" fill="url(#pin)"/><path d="M192.6,642.2 L192.6,624.9 A4.7,4.7 0 0 1 202.0,624.9 L202.0,642.2 Q197.3,643.6 192.6,642.2 Z" fill="url(#pin)"/><path d="M192.6,642.2 Q197.3,644.0 202.0,642.2" stroke="#8a5a08" stroke-width="0.7" fill="none"/><path d="M213.3,646.2 Q213.3,644.7 220.9,644.1 Q228.5,644.7 228.5,646.2 L228.5,656.9 Q227.7,662.4 220.9,664.4 Q214.1,662.4 213.3,656.9 Z" fill="url(#pin)"/><path d="M216.1,645.9 L216.1,628.4 A4.8,4.8 0 0 1 225.7,628.4 L225.7,645.9 Q220.9,647.3 216.1,645.9 Z" fill="url(#pin)"/><path d="M216.1,645.9 Q220.9,647.7 225.7,645.9" stroke="#8a5a08" stroke-width="0.7" fill="none"/><path d="M237.7,650.6 Q237.7,649.1 245.4,648.5 Q253.1,649.1 253.1,650.6 L253.1,661.5 Q252.3,667.2 245.4,669.2 Q238.5,667.2 237.7,661.5 Z" fill="url(#pin)"/><path d="M240.5,650.3 L240.5,632.7 A4.9,4.9 0 0 1 250.3,632.7 L250.3,650.3 Q245.4,651.7 240.5,650.3 Z" fill="url(#pin)"/><path d="M240.5,650.3 Q245.4,652.1 250.3,650.3" stroke="#8a5a08" stroke-width="0.7" fill="none"/><path d="M262.9,655.0 Q262.9,653.5 270.7,652.9 Q278.5,653.5 278.5,655.0 L278.5,666.2 Q277.7,672.0 270.7,674.0 Q263.7,672.0 262.9,666.2 Z" fill="url(#pin)"/><path d="M265.8,654.7 L265.8,637.0 A5.0,5.0 0 0 1 275.6,637.0 L275.6,654.7 Q270.7,656.1 265.8,654.7 Z" fill="url(#pin)"/><path d="M265.8,654.7 Q270.7,656.5 275.6,654.7" stroke="#8a5a08" stroke-width="0.7" fill="none"/></g></g>
<g filter="url(#soft)"><g id="watchsec"><path d="M454.8,664.1 L454.8,656.0 A2.1,2.1 0 0 1 459.0,656.0 L459.0,664.1 Z" fill="url(#minipin)"/><path d="M452.8,676.5 L452.8,665.6 Q452.8,663.1 454.8,662.6 L459.0,662.6 Q461.0,663.1 461.0,665.6 L461.0,676.5 Z" fill="url(#minipin)"/><path d="M452.8,675.7 Q451.0,675.9 451.0,677.3 L451.3,679.0 L455.9,679.9 L456.0,687.9 L457.8,687.9 L457.9,679.9 L462.5,679.0 L462.8,677.3 Q462.8,675.9 461.0,675.7 Z" fill="url(#minipin)"/><path d="M456.6,656.1 L456.6,670.1" stroke="#a86a08" stroke-width="0.9" opacity="0.75"/><path d="M455.7,706.2 L455.7,698.1 A2.1,2.1 0 0 1 459.9,698.1 L459.9,706.2 Z" fill="url(#minipin)"/><path d="M453.7,718.6 L453.7,707.7 Q453.7,705.2 455.7,704.7 L459.9,704.7 Q461.9,705.2 461.9,707.7 L461.9,718.6 Z" fill="url(#minipin)"/><path d="M453.7,717.8 Q451.9,718.0 451.9,719.4 L452.2,721.1 L456.8,722.0 L456.9,730.0 L458.7,730.0 L458.8,722.0 L463.4,721.1 L463.7,719.4 Q463.7,718.0 461.9,717.8 Z" fill="url(#minipin)"/><path d="M457.5,698.2 L457.5,712.2" stroke="#a86a08" stroke-width="0.9" opacity="0.75"/><path d="M468.3,695.4 L524,695.4" stroke="#9a9a9a" stroke-width="0.8"/><g transform="translate(440,630) scale(0.23437)"><ellipse cx="620" cy="528" rx="190" ry="12" fill="#dedede" filter="url(#blurz)"/><path d="M400,374 L427,408 Q440,432 460,454 Q488,480 520,494 Q560,512 601,515 Q645,516 681,508 Q720,496 748,474 Q774,452 788,428 Q802,404 808,381 L654,384 Q630,420 601,451 L607,394 L614,370 Z" fill="#151515"/><path d="M440,418 L604,428 L601,451 Q520,446 440,418 Z" fill="#262626"/><path d="M601,451 Q630,420 654,384 L672,384 Q650,430 612,470 Q560,470 520,452 Z" fill="#242424"/><path d="M560,60 L690,120 L662,300 L627,314 L560,300 Z" fill="#2a2a2a"/><path d="M645,185 L800,165 Q806,280 809,384 L654,386 Z" fill="#1d1d1d"/><path d="M645,185 L692,180 L700,384 L654,386 Z" fill="#2b2b2b"/><path d="M425,85 Q465,32 540,22 Q640,14 722,58 Q790,100 810,160 L812,192 L640,198 L628,140 Q600,100 540,92 Q480,88 440,110 Z" fill="#232323"/><path d="M440,110 Q480,88 540,92 Q600,100 628,140 L640,198 L690,194 L676,120 Q640,70 560,60 Q490,56 445,86 Z" fill="#343434"/><path d="M560,40 Q660,40 740,95 Q790,130 808,160 Q790,100 722,58 Q640,14 540,22 Z" fill="#121212"/><path d="M632,140 L808,150 L812,192 L640,198 Z" fill="#1a1a1a"/><path d="M632,140 L808,150 L809,160 L634,151 Z" fill="#3a3a3a"/><path d="M648,348 L809,341 L810,384 L654,388 Z" fill="#131313"/><path d="M648,348 L809,341 L809,351 L649,359 Z" fill="#333"/><rect x="700.0" y="120.0" width="40" height="10" rx="5" fill="#030303" transform="rotate(-3 720 125)"/><rect x="711.0" y="190.5" width="50" height="13" rx="5" fill="#030303" transform="rotate(-3 736 197)"/><rect x="713.0" y="230.5" width="52" height="13" rx="5" fill="#030303" transform="rotate(-3 739 237)"/><rect x="715.0" y="270.5" width="52" height="13" rx="5" fill="#030303" transform="rotate(-3 741 277)"/><rect x="716.0" y="310.5" width="50" height="13" rx="5" fill="#030303" transform="rotate(-3 741 317)"/><path d="M398,375 L440,425 L592,428 L612,375 Z" fill="#1b1b1b"/><path d="M470,400 L480,420 L560,422 L570,400 Z" fill="#0a0a0a"/><ellipse cx="496" cy="233" rx="146" ry="160" fill="#232323"/><ellipse cx="506" cy="238" rx="124" ry="138" fill="#303030"/><ellipse cx="512" cy="240" rx="106" ry="118" fill="#292929"/><ellipse cx="388" cy="150" rx="16" ry="22" fill="#141414" transform="rotate(28 388 150)"/><ellipse cx="388" cy="150" rx="9" ry="13" fill="#2e2e2e" transform="rotate(28 388 150)"/><ellipse cx="425" cy="160" rx="10" ry="22" fill="#181818" transform="rotate(30 425 160)"/><ellipse cx="368" cy="240" rx="8" ry="20" fill="#161616"/><ellipse cx="447" cy="245" rx="20" ry="40" fill="#0c0c0c"/><circle cx="450" cy="220" r="4.6" fill="#d9a33a"/><circle cx="450" cy="237" r="4.6" fill="#d9a33a"/><circle cx="450" cy="254" r="4.6" fill="#d9a33a"/><circle cx="450" cy="271" r="4.6" fill="#d9a33a"/><ellipse cx="541" cy="240" rx="68" ry="74" fill="#3d3d3d"/><ellipse cx="541" cy="240" rx="60" ry="66" fill="#0b0d0c"/><ellipse cx="542" cy="238" rx="40" ry="52" fill="#0f2a14" filter="url(#blurw)"/><rect x="526" y="200" width="40" height="26" rx="10" fill="url(#glow)"/><rect x="521" y="250" width="40" height="26" rx="10" fill="url(#glow)"/></g></g>
<g id="charger"><g clip-path="url(#insetclip)"><g transform="translate(650,540) scale(0.22894)"><ellipse cx="250" cy="560" rx="150" ry="22" fill="#d4d4d4" filter="url(#blurz)" transform="rotate(18 250 560)"/><ellipse cx="520" cy="720" rx="150" ry="26" fill="#d6d6d6" filter="url(#blurz)" transform="rotate(-35 520 720)"/><path d="M660,20 L350,390" stroke="#cfcfcf" stroke-width="34" filter="url(#blurz)"/><path d="M626,20 L600,0 L288,380 L314,404 Z" fill="#17191c"/><path d="M612,6 L298,386" stroke="#3a3d42" stroke-width="8"/><path d="M650,520 L840,360" stroke="#d2d2d2" stroke-width="30" filter="url(#blurz)"/><path d="M640,470 L840,316" stroke="#17191c" stroke-width="33"/><path d="M636,463 L836,309" stroke="#3a3d42" stroke-width="8"/><path d="M252,378 L268,366 L326,384 L322,404 L300,412 Z" fill="#1d2024"/><path d="M105,395 L110,470 Q112,486 128,492 L305,560 Q325,566 345,556 Q362,546 362,530 L360,462 Z" fill="#16181c"/><path d="M300,500 L345,490 L362,470 L362,530 Q362,546 345,556 Q325,566 305,560 Z" fill="#24272c"/><path d="M105,398 Q104,386 118,378 L135,368 Q150,362 175,366 L340,436 Q358,444 360,462 Q360,474 340,484 Q318,492 298,486 L122,420 Q106,412 105,398 Z" fill="#2b2e34"/><path d="M105,398 Q106,412 122,420 L298,486 Q318,492 340,484 Q360,474 360,462" stroke="#555a62" stroke-width="4" fill="none"/><ellipse cx="150" cy="384" rx="16" ry="11" fill="#6d6d6d"/><ellipse cx="150" cy="383" rx="13" ry="8.5" fill="#cfcfcf"/><ellipse cx="318" cy="456" rx="16" ry="11" fill="#6d6d6d"/><ellipse cx="318" cy="455" rx="13" ry="8.5" fill="#cfcfcf"/><ellipse cx="188" cy="399" rx="6.5" ry="5" fill="#0c0c0c"/><ellipse cx="188" cy="398.5" rx="4.2" ry="3.2" fill="#d8a848"/><ellipse cx="216" cy="410" rx="6.5" ry="5" fill="#0c0c0c"/><ellipse cx="216" cy="409.5" rx="4.2" ry="3.2" fill="#d8a848"/><ellipse cx="247" cy="422" rx="6.5" ry="5" fill="#0c0c0c"/><ellipse cx="247" cy="421.5" rx="4.2" ry="3.2" fill="#d8a848"/><ellipse cx="276" cy="434" rx="6.5" ry="5" fill="#0c0c0c"/><ellipse cx="276" cy="433.5" rx="4.2" ry="3.2" fill="#d8a848"/><path d="M590,492 L652,446" stroke="#15171a" stroke-width="52" stroke-linecap="round"/><path d="M340,630 L425,552 L548,602 L455,690 Z" fill="url(#metal)"/><path d="M340,630 L455,690 L458,736 L343,668 Z" fill="#3a3a3a"/><path d="M352,646 L452,700 L453,712 L353,656 Z" fill="#f4f4f4"/><path d="M455,690 L548,602 L551,646 L458,736 Z" fill="#f0f0f0"/><path d="M455,690 L458,736" stroke="#bdbdbd" stroke-width="3"/><path d="M399,596 L413,587 L427,596 L413,605 Z" fill="#2a2a2a"/><path d="M454,621 L468,612 L482,621 L468,630 Z" fill="#2a2a2a"/><path d="M548,604 L664,520 L667,562 Q667,572 660,578 L566,646 Q556,652 553,642 Z" fill="#101215"/><path d="M425,549 L548,458 Q558,452 570,455 L640,470 Q652,474 656,484 L665,512 Q667,522 658,528 L556,604 Q548,608 540,604 Z" fill="#202328"/><path d="M425,549 L548,458 Q558,452 570,455 L600,461 L470,560 Z" fill="#2c3036"/></g></g><path d="M667.1,715.7 L667.1,707.6 A2.1,2.1 0 0 1 671.4,707.6 L671.4,715.7 Z" fill="url(#minipin)"/><path d="M665.1,728.1 L665.1,717.2 Q665.1,714.7 667.1,714.2 L671.4,714.2 Q673.3,714.7 673.3,717.2 L673.3,728.1 Z" fill="url(#minipin)"/><path d="M665.1,727.3 Q663.3,727.5 663.3,728.9 L663.6,730.6 L668.2,731.5 L668.3,739.5 L670.1,739.5 L670.2,731.5 L674.8,730.6 L675.1,728.9 Q675.1,727.5 673.3,727.3 Z" fill="url(#minipin)"/><path d="M668.9,707.7 L668.9,721.7" stroke="#a86a08" stroke-width="0.9" opacity="0.75"/><path d="M685.4,720.8 L685.4,712.8 A2.1,2.1 0 0 1 689.6,712.8 L689.6,720.8 Z" fill="url(#minipin)"/><path d="M683.4,733.2 L683.4,722.3 Q683.4,719.8 685.4,719.3 L689.6,719.3 Q691.6,719.8 691.6,722.3 L691.6,733.2 Z" fill="url(#minipin)"/><path d="M683.4,732.4 Q681.6,732.6 681.6,734.0 L681.9,735.7 L686.5,736.6 L686.6,744.6 L688.4,744.6 L688.5,736.6 L693.1,735.7 L693.4,734.0 Q693.4,732.6 691.6,732.4 Z" fill="url(#minipin)"/><path d="M687.2,712.8 L687.2,726.8" stroke="#a86a08" stroke-width="0.9" opacity="0.75"/><path d="M674.2,702 L705,671.6" stroke="#6a6a6a" stroke-width="0.7"/></g></g>
<g id="lines" stroke="#bd1f2c" stroke-width="1.45" fill="none">
<path d="M302.5,208 L302.5,364"/>
<path d="M621.9,154.1 L308,379.5"/>
<path d="M308,379.5 C318,374.5 338,363 352.5,351.6 C364,342.5 372,336 380,329.3 C400,314 420,299 438,285.5" stroke-width="1.25"/>
<path d="M247.6,432 L155.8,604.6"/>
<path d="M565.5,474 L718,597.5"/>
</g>
<g id="labels" fill="#1a1a1a">
<text x="115.7" y="52.2" font-size="10.6" textLength="45.7" lengthAdjust="spacingAndGlyphs">PLUNGER</text>
<text x="114" y="150.2" font-size="10.6" textLength="36.8" lengthAdjust="spacingAndGlyphs">SPRING</text>
<text x="114.3" y="238.6" font-size="10.6" textLength="24.6" lengthAdjust="spacingAndGlyphs">TUBE</text>
<text x="282" y="199.2" font-size="10.8" textLength="49" lengthAdjust="spacingAndGlyphs">POGO PIN</text>
<g font-weight="bold" fill="#0a0a0a">
<text x="663" y="248" font-size="23" textLength="94.5" lengthAdjust="spacingAndGlyphs">Magnet</text>
<text x="70.8" y="781" font-size="25" textLength="256.5" lengthAdjust="spacingAndGlyphs">Pogo Pin Connector</text>
<text x="502.5" y="785.5" font-size="25" textLength="307.5" lengthAdjust="spacingAndGlyphs">Pogo Pin Charging Cable</text>
</g></g>
</svg>
</body></html>
